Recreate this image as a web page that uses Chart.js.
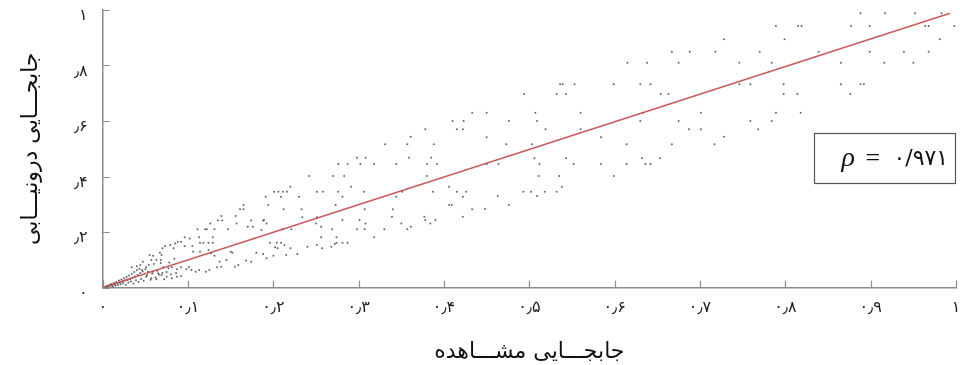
<!DOCTYPE html>
<html lang="fa">
<head>
<meta charset="utf-8">
<title>جابجایی مشاهده و درونیابی</title>
<script src="https://cdn.jsdelivr.net/npm/chart.js@4.4.1/dist/chart.umd.min.js"></script>
<style>
  html, body { margin: 0; padding: 0; background: #fff; }
  #wrap { width: 960px; height: 365px; }
</style>
</head>
<body>
<div id="wrap"><canvas id="chart" width="960" height="365"></canvas></div>
<script>
const xTickLabels = ["۰", "۰٫۱", "۰٫۲", "۰٫۳", "۰٫۴", "۰٫۵", "۰٫۶", "۰٫۷", "۰٫۸", "۰٫۹", "۱"];
const yTickLabels = ["۰", "٫۲", "٫۴", "٫۶", "٫۸", "۱"];
const xTitle = "جابجـــایی مشـــاهده";
const yTitle = "جابجـــایی درونیـــابی";
const rhoLabel = "۰/۹۷۱";

const nearOrigin = [
    [0.003,0.002],[0.005,0.006],[0.006,0.003],[0.008,0.010],[0.009,0.005],[0.010,0.013],[0.011,0.008],[0.012,0.004],
    [0.013,0.016],[0.014,0.011],[0.015,0.007],[0.016,0.020],[0.017,0.014],[0.018,0.009],[0.019,0.025],[0.020,0.017],
    [0.021,0.012],[0.022,0.029],[0.023,0.021],[0.024,0.015],[0.025,0.033],[0.026,0.024],[0.027,0.010],[0.028,0.038],
    [0.029,0.027],[0.030,0.018],[0.031,0.043],[0.032,0.031],[0.033,0.022],[0.034,0.050],[0.035,0.035],[0.036,0.014],
    [0.037,0.056],[0.038,0.040],[0.039,0.026],[0.040,0.062],[0.041,0.046],[0.042,0.020],[0.043,0.068],[0.044,0.052],
    [0.045,0.031],[0.047,0.058],[0.048,0.024],[0.050,0.066],[0.052,0.044],[0.054,0.081],[0.056,0.028],[0.058,0.050],
    [0.060,0.085],[0.062,0.036],[0.064,0.060],[0.066,0.046],[0.068,0.088],[0.070,0.052],[0.072,0.030],[0.075,0.056],
    [0.078,0.090],[0.080,0.047],[0.084,0.104],[0.086,0.052]
];
const lowRange = [
    [0.165,0.297],[0.161,0.282],[0.165,0.282],[0.139,0.258],[0.135,0.241],[0.140,0.241],[0.156,0.258],[0.126,0.231],
    [0.157,0.231],[0.174,0.241],[0.176,0.219],[0.188,0.241],[0.111,0.210],[0.120,0.210],[0.122,0.210],[0.131,0.210],
    [0.147,0.210],[0.170,0.219],[0.113,0.181],[0.129,0.181],[0.088,0.165],[0.092,0.165],[0.102,0.177],[0.114,0.161],
    [0.118,0.161],[0.124,0.161],[0.129,0.161],[0.079,0.153],[0.085,0.159],[0.096,0.150],[0.096,0.181],[0.105,0.150],
    [0.070,0.141],[0.073,0.150],[0.083,0.141],[0.106,0.129],[0.114,0.129],[0.124,0.135],[0.127,0.123],[0.131,0.114],
    [0.150,0.129],[0.152,0.125],[0.180,0.125],[0.168,0.097],[0.174,0.093],[0.155,0.075],[0.159,0.081],[0.137,0.093],
    [0.145,0.099],[0.134,0.073],[0.139,0.075],[0.125,0.063],[0.121,0.057],[0.113,0.063],[0.109,0.057],[0.067,0.125],
    [0.069,0.117],[0.059,0.114],[0.055,0.117],[0.057,0.099],[0.063,0.099],[0.068,0.099],[0.071,0.073],[0.077,0.069],
    [0.081,0.073],[0.087,0.066],[0.092,0.073],[0.098,0.066],[0.101,0.073],[0.104,0.063],[0.047,0.093],[0.044,0.081],
    [0.040,0.077],[0.034,0.073],[0.051,0.073],[0.046,0.063],[0.053,0.057],[0.059,0.057],[0.065,0.051],[0.051,0.039],
    [0.057,0.033],[0.063,0.030],[0.069,0.045],[0.075,0.039],[0.081,0.033],[0.087,0.039],[0.092,0.041]
];
const midRange = [
    [0.361,0.543],[0.331,0.516],[0.357,0.516],[0.388,0.516],[0.298,0.468],[0.308,0.468],[0.359,0.468],[0.385,0.468],
    [0.276,0.445],[0.287,0.445],[0.302,0.445],[0.318,0.445],[0.344,0.445],[0.380,0.445],[0.392,0.445],[0.242,0.402],
    [0.270,0.402],[0.283,0.402],[0.380,0.402],[0.220,0.363],[0.291,0.363],[0.406,0.363],[0.201,0.345],[0.206,0.345],
    [0.211,0.345],[0.216,0.345],[0.251,0.345],[0.258,0.345],[0.276,0.345],[0.306,0.345],[0.351,0.345],[0.387,0.345],
    [0.415,0.345],[0.426,0.345],[0.191,0.327],[0.209,0.327],[0.230,0.327],[0.281,0.327],[0.344,0.327],[0.422,0.327],
    [0.194,0.297],[0.273,0.297],[0.406,0.297],[0.409,0.297],[0.212,0.282],[0.233,0.282],[0.307,0.282],[0.340,0.282],
    [0.433,0.282],[0.234,0.253],[0.251,0.253],[0.281,0.243],[0.339,0.255],[0.377,0.255],[0.422,0.255],[0.189,0.243],
    [0.301,0.243],[0.378,0.243],[0.390,0.243],[0.192,0.231],[0.250,0.231],[0.308,0.231],[0.350,0.231],[0.384,0.231],
    [0.256,0.219],[0.361,0.219],[0.211,0.210],[0.221,0.210],[0.269,0.210],[0.298,0.210],[0.307,0.210],[0.330,0.210],
    [0.357,0.210],[0.186,0.207],[0.318,0.181],[0.256,0.181],[0.274,0.181],[0.196,0.161],[0.204,0.161],[0.209,0.161],
    [0.274,0.161],[0.281,0.161],[0.287,0.161],[0.272,0.157],[0.251,0.153],[0.213,0.153],[0.202,0.145],[0.205,0.141],
    [0.220,0.141],[0.240,0.147],[0.257,0.141],[0.268,0.147],[0.188,0.121],[0.215,0.117],[0.228,0.121],[0.200,0.114],
    [0.192,0.105],[0.433,0.630],[0.410,0.600],[0.423,0.600],[0.415,0.570],[0.422,0.570],[0.378,0.570]
];
const upperRange = [
    [0.615,0.810],[0.536,0.732],[0.539,0.732],[0.553,0.732],[0.599,0.732],[0.494,0.697],[0.532,0.697],[0.543,0.697],
    [0.450,0.630],[0.507,0.630],[0.560,0.630],[0.633,0.630],[0.476,0.600],[0.509,0.600],[0.519,0.570],[0.560,0.570],
    [0.450,0.541],[0.584,0.541],[0.473,0.516],[0.503,0.516],[0.614,0.516],[0.506,0.466],[0.543,0.466],[0.450,0.445],
    [0.464,0.445],[0.512,0.445],[0.552,0.445],[0.584,0.445],[0.614,0.445],[0.511,0.402],[0.535,0.402],[0.599,0.402],
    [0.538,0.363],[0.493,0.345],[0.502,0.345],[0.518,0.345],[0.532,0.345],[0.509,0.330],[0.463,0.330],[0.476,0.297],
    [0.448,0.283],[0.638,0.810],[0.630,0.732],[0.642,0.732],[0.654,0.697],[0.663,0.697],[0.630,0.600],[0.675,0.600],
    [0.667,0.516],[0.687,0.570],[0.667,0.850],[0.688,0.850],[0.675,0.810],[0.636,0.445],[0.642,0.445],[0.653,0.466],
    [0.632,0.466]
];
const topRange = [
    [0.888,0.988],[0.917,0.988],[0.952,0.988],[0.983,0.988],[0.789,0.942],[0.815,0.942],[0.819,0.942],[0.877,0.942],
    [0.899,0.942],[0.964,0.942],[0.968,0.942],[0.998,0.942],[0.728,0.895],[0.799,0.895],[0.981,0.895],[0.718,0.850],
    [0.770,0.850],[0.839,0.850],[0.899,0.850],[0.939,0.850],[0.968,0.850],[0.746,0.810],[0.784,0.810],[0.865,0.810],
    [0.916,0.810],[0.950,0.810],[0.746,0.732],[0.759,0.732],[0.798,0.732],[0.865,0.732],[0.888,0.732],[0.892,0.732],
    [0.798,0.697],[0.814,0.697],[0.876,0.697],[0.701,0.630],[0.789,0.630],[0.818,0.630],[0.701,0.570],[0.759,0.600],
    [0.784,0.600],[0.768,0.570],[0.728,0.543],[0.717,0.516]
];
const fitLine = [[0, 0], [0.993, 0.988]];

const scatterPoints = [...nearOrigin, ...lowRange, ...midRange, ...upperRange, ...topRange];

const arabicFont = "'DejaVu Sans', sans-serif";
const axisGray = "#8c8c8c";

// inward tick marks plus the correlation box
const extras = {
    id: "extras",
    afterDraw(chart) {
        const { ctx, chartArea, scales: { x, y } } = chart;
        ctx.save();
        ctx.strokeStyle = axisGray;
        ctx.lineWidth = 1.2;
        ctx.beginPath();
        x.ticks.forEach(t => {
            const px = Math.round(x.getPixelForValue(t.value)) + 0.5;
            ctx.moveTo(px, chartArea.bottom);
            ctx.lineTo(px, chartArea.bottom - 7);
        });
        y.ticks.forEach(t => {
            const py = Math.round(y.getPixelForValue(t.value)) + 0.5;
            ctx.moveTo(chartArea.left, py);
            ctx.lineTo(chartArea.left + 7, py);
        });
        ctx.stroke();

        const bx0 = Math.round(x.getPixelForValue(0.834)) + 0.5;
        const bx1 = Math.round(x.getPixelForValue(1)) - 0.5;
        const by0 = Math.round(y.getPixelForValue(0.558)) + 0.5;
        const by1 = Math.round(y.getPixelForValue(0.376)) + 0.5;
        ctx.fillStyle = "#fff";
        ctx.fillRect(bx0, by0, bx1 - bx0, by1 - by0);
        ctx.strokeStyle = "#555";
        ctx.lineWidth = 1.2;
        ctx.strokeRect(bx0, by0, bx1 - bx0, by1 - by0);

        const cy = (by0 + by1) / 2 + 1;
        ctx.fillStyle = "#111";
        ctx.textBaseline = "middle";
        ctx.textAlign = "left";
        ctx.direction = "ltr";
        ctx.font = "italic 28px 'Liberation Serif', serif";
        ctx.fillText("ρ", bx0 + 27, cy - 1);
        ctx.font = "26px 'Liberation Serif', serif";
        ctx.fillText("=", bx0 + 51, cy);
        ctx.font = "22px " + arabicFont;
        ctx.fillText(rhoLabel, bx0 + 79, cy);
        ctx.restore();
    }
};

new Chart(document.getElementById("chart"), {
    type: "scatter",
    data: {
        datasets: [
            {
                type: "line",
                data: fitLine.map(([x, y]) => ({ x, y })),
                borderColor: "rgba(196, 72, 72, 0.9)",
                borderWidth: 1.5,
                pointRadius: 0,
                fill: false
            },
            {
                data: scatterPoints.map(([x, y]) => ({ x, y })),
                backgroundColor: "rgba(50, 50, 50, 0.75)",
                borderWidth: 0,
                pointRadius: 1
            }
        ]
    },
    options: {
        responsive: false,
        animation: false,
        events: [],
        layout: { padding: { top: 10, right: 2, bottom: 0, left: 0 } },
        plugins: { legend: { display: false }, tooltip: { enabled: false } },
        scales: {
            x: {
                type: "linear",
                min: 0,
                max: 1,
                grid: { display: false, drawTicks: false },
                border: { display: true, color: axisGray, width: 1.5 },
                ticks: {
                    stepSize: 0.1,
                    padding: 11,
                    color: "#222",
                    font: { family: arabicFont, size: 16 },
                    maxRotation: 0,
                    autoSkip: false,
                    callback: (v, i) => xTickLabels[i]
                },
                title: {
                    display: true,
                    text: xTitle,
                    color: "#111",
                    font: { family: arabicFont, size: 22 },
                    padding: { top: 0, bottom: 0 }
                },
                afterFit(s) {
                    s.height = 77.5;
                    s.paddingLeft = 0;
                    s.paddingRight = 0;
                }
            },
            y: {
                type: "linear",
                min: 0,
                max: 1,
                grid: { display: false, drawTicks: false },
                border: { display: true, color: axisGray, width: 1.5 },
                ticks: {
                    stepSize: 0.2,
                    padding: 15,
                    labelOffset: 6,
                    color: "#222",
                    font: { family: arabicFont, size: 16 },
                    callback: (v, i) => yTickLabels[i]
                },
                title: {
                    display: true,
                    text: yTitle,
                    color: "#111",
                    font: { family: arabicFont, size: 22 },
                    padding: { top: 18, bottom: 0 }
                },
                afterFit(s) {
                    s.width = 102.7;
                    s.paddingTop = 0;
                    s.paddingBottom = 0;
                }
            }
        }
    },
    plugins: [extras]
});
</script>
</body>
</html>
